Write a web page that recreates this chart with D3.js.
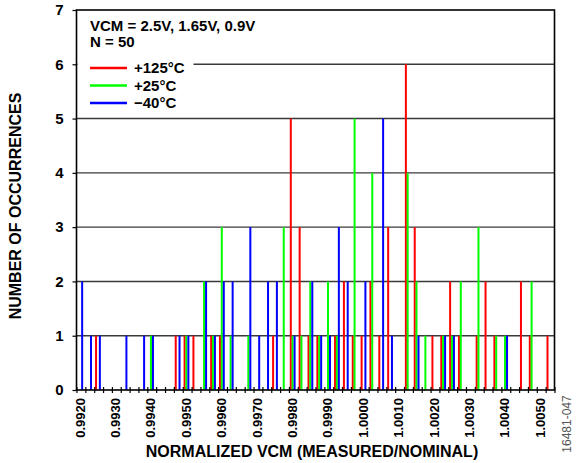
<!DOCTYPE html>
<html><head><meta charset="utf-8">
<script src="https://cdn.jsdelivr.net/npm/d3@7"></script>
<style>body{margin:0;background:#fff}svg{display:block}text{font-family:"Liberation Sans",Arial,sans-serif}</style>
</head><body><svg width="577" height="463"></svg>
<script>
const seriesNames = ["+125°C", "+25°C", "\u221240°C"];
const seriesColors = ["#ff0000", "#00ff00", "#0000ff"];

const redX = [0.99275,0.99500,0.99525,0.99550,0.99600,0.99625,0.99775,0.99825,0.99850,0.99875,0.99900,0.99950,0.99975,1.00000,1.00025,1.00050,1.00075,1.00100,1.00150,1.00175,1.00225,1.00250,1.00275,1.00300,1.00350,1.00375,1.00400,1.00475,1.00500,1.00550];
const redN = [1,1,1,1,1,1,1,5,3,1,1,1,2,1,1,2,1,3,6,3,1,1,2,1,1,2,1,2,1,1];

const greenX = [0.99425,0.99525,0.99575,0.99600,0.99625,0.99650,0.99700,0.99800,0.99825,0.99850,0.99875,0.99900,0.99925,0.99950,1.00000,1.00050,1.00150,1.00175,1.00200,1.00250,1.00275,1.00300,1.00350,1.00400,1.00425,1.00500];
const greenN = [1,1,2,1,3,1,1,3,1,1,2,1,2,1,5,4,4,2,1,1,1,2,3,1,1,2];

const blueX = [0.99225,0.99250,0.99275,0.99350,0.99400,0.99425,0.99500,0.99525,0.99575,0.99600,0.99625,0.99650,0.99700,0.99725,0.99750,0.99775,0.99825,0.99875,0.99900,0.99925,0.99950,0.99975,1.00025,1.00075,1.00100,1.00175,1.00250,1.00275,1.00425];
const blueN = [2,1,1,1,1,1,1,1,2,1,2,2,3,1,2,2,1,2,1,1,3,2,2,5,1,1,1,1,1];

const xTickLabels = ["0.9920","0.9930","0.9940","0.9950","0.9960","0.9970","0.9980","0.9990","1.0000","1.0010","1.0020","1.0030","1.0040","1.0050"];
const yTickLabels = ["0","1","2","3","4","5","6","7"];
const headerLines = ["VCM = 2.5V, 1.65V, 0.9V", "N = 50"];

const svg = d3.select("svg");
const L = 76.5, R = 554.5, T = 10, B = 390;
const x = d3.scaleLinear().domain([0.9920, 1.0055]).range([L, R]);
const y = d3.scaleLinear().domain([0, 7]).range([B, T]);

// gridlines
svg.append("g").selectAll("line").data(d3.range(1, 7)).join("line")
  .attr("x1", L).attr("x2", R).attr("y1", d => y(d)).attr("y2", d => y(d))
  .attr("stroke", "#3a3a3a").attr("stroke-width", 1.4);

// legend background
svg.append("rect").attr("x", L + 1).attr("y", T + 1).attr("width", 116).attr("height", 99).attr("fill", "#fff");

// bars
const offsets = [-7, -5.2, -3.2];
const data = [[redX, redN], [greenX, greenN], [blueX, blueN]];
data.forEach(([xs, ns], s) => {
  svg.append("g").selectAll("rect").data(xs.map((v, i) => ({v, n: ns[i]}))).join("rect")
    .attr("x", d => x(d.v) + offsets[s] - 1)
    .attr("width", 2)
    .attr("y", d => y(d.n))
    .attr("height", d => y(0) - y(d.n))
    .attr("fill", seriesColors[s]);
});

// frame
svg.append("rect").attr("x", L).attr("y", T).attr("width", R - L).attr("height", B - T)
  .attr("fill", "none").attr("stroke", "#000").attr("stroke-width", 1.6);

// x axis minor ticks
const xAxis = d3.axisBottom(x).tickValues(d3.range(0, 55).map(k => 0.9920 + k * 0.00025)).tickSize(0).tickFormat("");
const gx = svg.append("g").attr("transform", `translate(0,${B})`).call(xAxis);
gx.select(".domain").remove();
gx.selectAll(".tick").append("line").attr("y1", -3).attr("y2", 3).attr("stroke", "#000").attr("stroke-width", 1.2);

// x labels
svg.append("g").selectAll("text").data(xTickLabels).join("text")
  .attr("transform", d => `translate(${x(+d)},${B + 8}) rotate(-90)`)
  .attr("text-anchor", "end").attr("dy", "0.62em")
  .attr("font-size", 13).attr("font-weight", "bold").text(d => d);

// y axis
const yAxis = d3.axisLeft(y).tickValues(yTickLabels.map(Number)).tickSize(4).tickPadding(9).tickFormat((d, i) => yTickLabels[i]);
const gy = svg.append("g").attr("transform", `translate(${L},0)`).call(yAxis);
gy.select(".domain").remove();
gy.selectAll(".tick line").attr("stroke", "#000").attr("stroke-width", 1.2);
gy.selectAll(".tick text").attr("font-size", 15).attr("font-weight", "bold").attr("fill", "#000")
  .attr("font-family", "'Liberation Sans',Arial,sans-serif");

// header
svg.append("g").selectAll("text").data(headerLines).join("text")
  .attr("x", 90).attr("y", (d, i) => 31 + i * 16)
  .attr("font-size", 15).attr("font-weight", "bold").text(d => d);

// legend
const lg = svg.append("g").selectAll("g").data(seriesNames).join("g")
  .attr("transform", (d, i) => `translate(90,${68 + i * 17.5})`);
lg.append("line").attr("x1", 0).attr("x2", 37).attr("stroke", (d, i) => seriesColors[i]).attr("stroke-width", 2.5);
lg.append("text").attr("x", 44).attr("dy", "0.35em").attr("font-size", 15).attr("font-weight", "bold").text(d => d);

// axis titles
svg.append("text").attr("x", 312).attr("y", 457).attr("text-anchor", "middle")
  .attr("font-size", 16).attr("font-weight", "bold").text("NORMALIZED VCM (MEASURED/NOMINAL)");
svg.append("text").attr("transform", "translate(21,206) rotate(-90)").attr("text-anchor", "middle")
  .attr("font-size", 16).attr("font-weight", "bold").text("NUMBER OF OCCURRENCES");
svg.append("text").attr("transform", "translate(571,424) rotate(-90)").attr("text-anchor", "middle")
  .attr("font-size", 12).attr("fill", "#555").text("16481-047");
</script></body></html>
